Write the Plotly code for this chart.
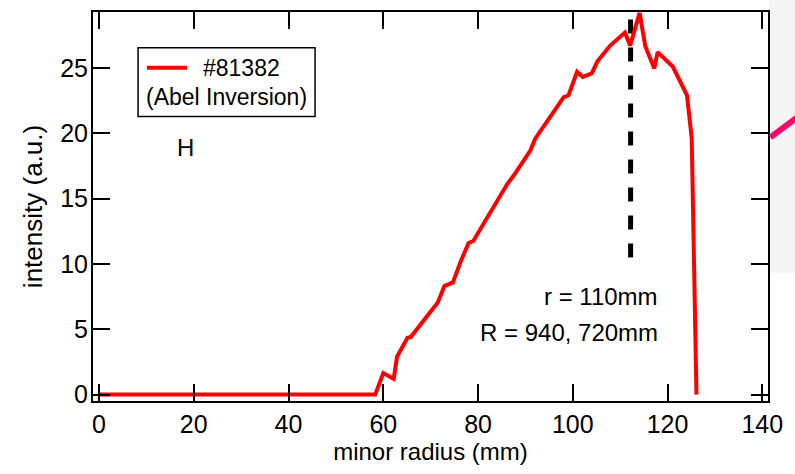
import plotly.graph_objects as go

# Abel-inverted H-alpha emission profile, shot #81382
radius_mm = [0, 58.3, 60.0, 62.2, 62.9, 65.1, 65.8, 71.5, 72.9, 74.7, 76.3, 78.0, 79.0,
             86.1, 87.6, 91.0, 92.1, 98.1, 99.1, 100.9, 102.1, 104.0, 105.2, 107.9,
             111.0, 112.1, 114.1, 115.3, 117.2, 117.9, 121.1, 124.1, 125.1, 126.1]
intensity = [0, 0, 1.65, 1.2, 2.9, 4.35, 4.4, 7.05, 8.3, 8.58, 10.15, 11.6, 11.75,
             16.07, 16.8, 18.65, 19.6, 22.75, 22.9, 24.7, 24.3, 24.57, 25.5, 26.7,
             27.7, 26.7, 29.2, 26.65, 24.95, 26.2, 25.1, 22.9, 19.6, 0]

# chord position marker
marker_r = [112.2, 112.2]
marker_i = [28.7, 10.36]

x_ticks = [0, 20, 40, 60, 80, 100, 120, 140]
y_ticks = [0, 5, 10, 15, 20, 25]

FONT = "Liberation Sans, Arial, sans-serif"

fig = go.Figure()
fig.add_trace(go.Scatter(x=marker_r, y=marker_i, mode="lines",
                         line=dict(color="black", width=5, dash="14px,14px"),
                         showlegend=False, hoverinfo="skip"))
fig.add_trace(go.Scatter(x=radius_mm, y=intensity, mode="lines",
                         line=dict(color="#ff0000", width=4),
                         name="#81382", showlegend=False))

# legend box
fig.add_shape(type="rect", xref="x", yref="y", x0=8.24, x1=45.6, y0=21.27, y1=26.53,
              line=dict(color="black", width=1.5), fillcolor="white")
fig.add_shape(type="line", xref="x", yref="y", x0=10.1, x1=18.6, y0=25.0, y1=25.0,
              line=dict(color="#ff0000", width=4))
fig.add_annotation(x=21.6, y=25.0, xref="x", yref="y", text="#81382", showarrow=False,
                   xanchor="left", yanchor="middle", font=dict(size=23, color="black", family=FONT))
fig.add_annotation(x=9.5, y=22.8, xref="x", yref="y", text="(Abel Inversion)", showarrow=False,
                   xanchor="left", yanchor="middle", font=dict(size=23, color="black", family=FONT))
fig.add_annotation(x=18.2, y=18.9, xref="x", yref="y", text="H", showarrow=False,
                   xanchor="center", yanchor="middle", font=dict(size=24, color="black", family=FONT))
fig.add_annotation(x=118.5, y=7.49, xref="x", yref="y", text="r = 110mm", showarrow=False,
                   xanchor="right", yanchor="middle", font=dict(size=24, color="black", family=FONT))
fig.add_annotation(x=118.5, y=4.75, xref="x", yref="y", text="R = 940, 720mm", showarrow=False,
                   xanchor="right", yanchor="middle", font=dict(size=24, color="black", family=FONT))

# neighbouring slide content at the right edge
fig.add_shape(type="rect", xref="paper", yref="paper", x0=1.0015, x1=1.05, y0=0.3294, y1=1.03,
              line=dict(width=0), fillcolor="#f5f5f5", layer="below")
fig.add_shape(type="line", xref="paper", yref="paper", x0=1.0036, y0=0.6775, x1=1.05, y1=0.738,
              line=dict(color="#f5086c", width=6))

axis_common = dict(showline=True, linecolor="black", linewidth=2, mirror="ticks",
                   ticks="inside", ticklen=17, tickwidth=2, tickcolor="black",
                   showgrid=False, zeroline=False,
                   tickfont=dict(size=25, color="black", family=FONT))

fig.update_xaxes(range=[-1.27, 141.2], tickvals=x_ticks,
                 title=dict(text="minor radius (mm)", font=dict(size=24, color="black", family=FONT),
                            standoff=6),
                 **axis_common)
fig.update_yaxes(range=[-0.49, 29.27], tickvals=y_ticks, ticklabelstandoff=-2,
                 title=dict(text="intensity (a.u.)", font=dict(size=26, color="black", family=FONT),
                            standoff=10),
                 **axis_common)

fig.update_layout(width=795, height=474, margin=dict(l=93, r=27, t=10, b=73),
                  plot_bgcolor="white", paper_bgcolor="white",
                  font=dict(family=FONT, color="black"))

fig.write_html("out.html")
